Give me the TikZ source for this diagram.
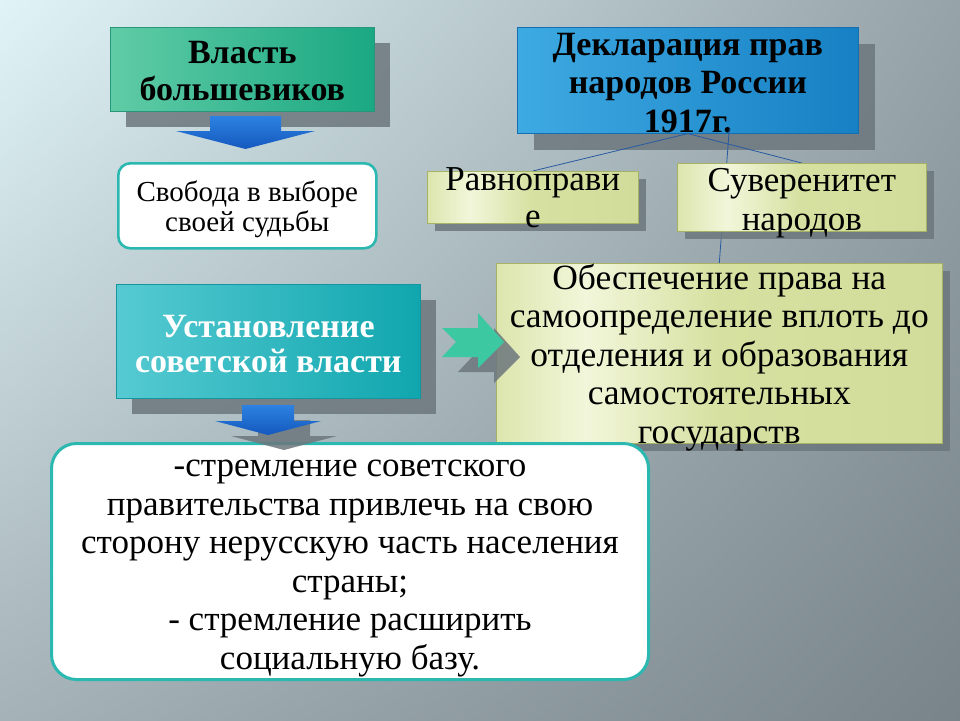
\documentclass[tikz,border=0pt]{standalone}
\usepackage{fontspec}
\setmainfont{Liberation Serif}
\usetikzlibrary{calc,shadows,shadings}

\definecolor{fondoA}{RGB}{224,244,247}
\definecolor{fondoB}{RGB}{150,163,168}
\definecolor{fondoC}{RGB}{165,178,183}
\definecolor{fondoD}{RGB}{120,132,138}
\definecolor{sombragris}{RGB}{108,119,125}
\definecolor{verdeL}{RGB}{96,204,166}
\definecolor{verdeR}{RGB}{26,168,130}
\definecolor{verdeB}{RGB}{40,150,120}
\definecolor{azulL}{RGB}{62,170,226}
\definecolor{azulR}{RGB}{22,128,196}
\definecolor{azulB}{RGB}{20,110,175}
\definecolor{turqL}{RGB}{86,202,210}
\definecolor{turqR}{RGB}{16,166,174}
\definecolor{turqB}{RGB}{20,150,160}
\definecolor{turq}{RGB}{42,184,176}
\definecolor{olivaA}{RGB}{214,224,160}
\definecolor{olivaL}{RGB}{242,246,218}
\definecolor{olivaB}{RGB}{206,216,148}
\definecolor{olivaBorde}{RGB}{168,178,100}
\definecolor{flechaA}{RGB}{44,130,226}
\definecolor{flechaB}{RGB}{20,88,190}
\definecolor{chevronA}{RGB}{60,200,160}
\definecolor{lineaAzul}{RGB}{40,90,160}

\pgfdeclarehorizontalshading{brillo}{100bp}{color(0bp)=(olivaA); color(22bp)=(olivaA);
  color(35bp)=(olivaL); color(50bp)=(olivaA); color(100bp)=(olivaB)}

\pgfdeclarelayer{fondo}
\pgfdeclarelayer{lineas}
\pgfsetlayers{fondo,lineas,main}

% flecha hacia abajo: estilo, punto, medio ancho, largo, medio ancho punta, largo punta
\newcommand{\downblock}[6]{%
  \path[#1, shift={(#2)}] (-#3,0) -- (#3,0) -- (#3,#4) -- (#5,#4) -- (0,{#4+#6})
    -- (-#5,#4) -- (-#3,#4) -- cycle;}
% flecha con muesca hacia la derecha
\newcommand{\chevronflecha}[2]{%
  \path[#1, shift={(#2)}] (0,0) -- (36,0) -- (36,-15) -- (62,14) -- (36,40)
    -- (36,29) -- (0,29) -- (14,14) -- cycle;}

\begin{document}
\begin{tikzpicture}[x=1pt,y=-1pt,
    caja/.style={draw, line width=0.6pt, inner sep=0pt, align=flush center, anchor=north west},
    sombra/.style={drop shadow={shadow xshift=#1, shadow yshift=-#1, fill=sombragris, opacity=0.85}},
    sombra/.default=16pt,
    oliva/.style={caja, draw=olivaBorde, shade, shading=brillo, sombra=8pt},
    blanca/.style={caja, draw=turq, line width=2.6pt, fill=white},
    linea/.style={draw=lineaAzul, line width=0.8pt},
    flechaazul/.style={top color=flechaA, bottom color=flechaB},
    flechasombra/.style={fill=sombragris, opacity=0.85},
    flechaverde/.style={fill=chevronA}]

  \begin{pgfonlayer}{fondo}
    % Fondo
    \useasboundingbox (0,0) rectangle (960,720);
    \shade[upper left=fondoA, upper right=fondoB, lower left=fondoC, lower right=fondoD]
      (0,0) rectangle (960,720);

    % Declaracion
    \node[caja, sombra=17pt, draw=azulB, left color=azulL, right color=azulR,
          text width=341pt, text height=28pt, text depth=78pt,
          font=\bfseries\fontsize{34}{38.5}\selectfont] (deklar) at (517,27)
          {Декларация прав\\народов России\\1917г.};
  \end{pgfonlayer}

  % Poder bolchevique
  \node[caja, sombra, draw=verdeB, left color=verdeL, right color=verdeR,
        text width=264pt, text height=36pt, text depth=48pt,
        font=\bfseries\fontsize{34}{37}\selectfont] (vlast) at (110,27)
        {Власть\\большевиков};
  \coordinate (a1) at (245.5,116);
  \downblock{flechaazul}{a1}{35.5}{15}{69.5}{18}

  \node[blanca, rounded corners=12pt, text width=258pt, text height=38pt, text depth=47pt,
        font=\fontsize{29}{30}\selectfont] (svoboda) at (117,162)
        {Свобода в выборе\\своей судьбы};

  % Derechos
  \node[oliva, text width=211pt, text height=19pt, text depth=33pt,
        font=\fontsize{35}{37}\selectfont] (ravno) at (427,171) {Равноправи\\е};
  \node[oliva, text width=249pt, text height=28pt, text depth=40pt,
        font=\fontsize{35}{39}\selectfont] (suver) at (677,163) {Суверенитет\\народов};
  \node[oliva, text width=446pt, text height=26pt, text depth=154pt,
        font=\fontsize{35.5}{38.5}\selectfont] (obesp) at (496,263)
        {Обеспечение права на\\самоопределение вплоть до\\отделения и образования\\самостоятельных\\государств};

  \begin{pgfonlayer}{lineas}
    \draw[linea] (deklar.south) -- (ravno.north);
    \draw[linea] (deklar.south) -- (suver.north);
    \draw[linea] ($(deklar.south)+(41.5,-5)$) -- (obesp.north);
  \end{pgfonlayer}

  % Poder sovietico
  \node[caja, sombra, draw=turqB, left color=turqL, right color=turqR,
        text width=304pt, text height=53pt, text depth=61pt, text=white,
        font=\bfseries\fontsize{34}{35}\selectfont] (ustan) at (116,284)
        {Установление\\советской власти};
  \coordinate (a3) at (442,328);
  \chevronflecha{flechasombra}{$(a3)+(16,15)$}
  \chevronflecha{flechaverde}{a3}

  \node[blanca, line width=3pt, rounded corners=25pt, text width=597pt,
        text height=33pt, text depth=203pt, font=\fontsize{35}{38.5}\selectfont] (cel) at (50,442)
        {-стремление советского\\правительства привлечь на свою\\сторону нерусскую часть населения\\страны;\\- стремление расширить\\социальную базу.};

  \coordinate (a2) at (268,405);
  \downblock{flechasombra}{$(a2)+(16,15)$}{26}{16}{53}{14}
  \downblock{flechaazul}{a2}{26}{16}{53}{14}
\end{tikzpicture}
\end{document}
